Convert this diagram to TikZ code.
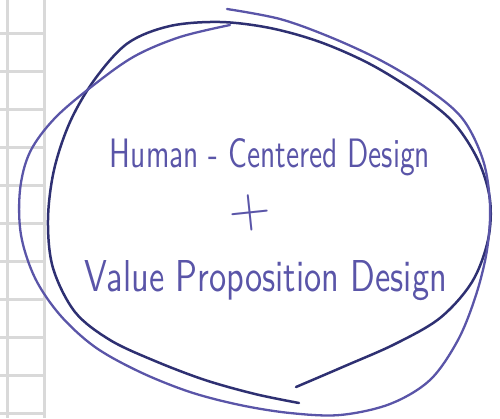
\documentclass[tikz,border=0pt]{standalone}
\usepackage{graphicx}
\definecolor{inkdark}{HTML}{2E3072}
\definecolor{inkpurple}{HTML}{5A55A8}
\definecolor{gridgray}{HTML}{D9D9D9}
\tikzset{
  gridline/.style={gridgray, line width=3pt},
  loopdark/.style={inkdark, line width=2.5pt, line cap=round},
  looppurple/.style={inkpurple, line width=2.3pt, line cap=round},
  handtext/.style={inkpurple, inner sep=0pt, font=\sffamily}
}
\begin{document}
\begin{tikzpicture}[x=1pt,y=-1pt]
            \useasboundingbox (0,0) rectangle (500,418);
            \foreach \y in {33,71,...,413} \draw[gridline] (0,\y) -- (44,\y);
            \draw[gridline] (7,0) -- (7,418);
            \draw[gridline] (44,0) -- (44,418);

            \draw[loopdark] plot[smooth, tension=0.55] coordinates {(296,387) (345,366) (395,344) (440,318) (472,282) (488,240) (490,200) (478,160) (453,122) (417,93) (370,64) (320,42) (270,28) (220,22) (170,26) (128,43) (95,79) (70,122) (54,170) (48,220) (53,268) (75,312) (110,340) (155,361) (205,380) (255,394) (299,403)};
            \draw[looppurple] plot[smooth, tension=0.55] coordinates {(227,9) (280,19) (330,37) (380,60) (425,87) (462,118) (483,160) (490,205) (487,250) (476,295) (458,340) (430,380) (390,404) (340,415) (290,413) (240,405) (190,392) (140,372) (95,347) (60,315) (35,278) (21,235) (20,190) (30,152) (55,118) (95,84) (135,56) (180,37) (230,25)};

            \node[handtext, anchor=base] (hcd) at (270,167) {\resizebox{320pt}{29pt}{Human - Centered Design}};
            \node[handtext, rotate=6] (plus) at (250,213) {\fontsize{58}{58}\selectfont +};
            \node[handtext, anchor=base] (vpd) at (266,291) {\resizebox{362pt}{31pt}{Value Proposition Design}};
\end{tikzpicture}
\end{document}
